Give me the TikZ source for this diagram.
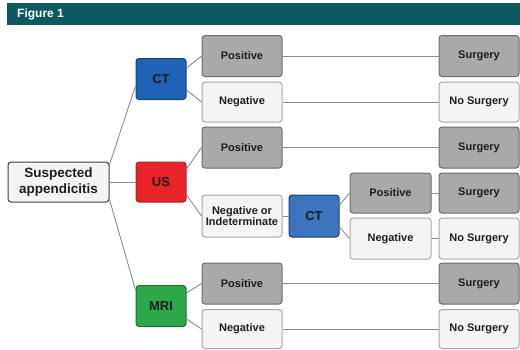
\documentclass[tikz,border=0pt]{standalone}
\usepackage{fontspec}
\setmainfont{Liberation Sans}
\definecolor{teal}{HTML}{0E5A60}
\definecolor{gfill}{HTML}{A9A9A9}
\definecolor{gline}{HTML}{6C6C6C}
\definecolor{lfill}{HTML}{F4F4F6}
\definecolor{lline}{HTML}{A8A8A8}
\definecolor{ctblue}{HTML}{1E63B8}
\definecolor{ctline}{HTML}{1B3F78}
\definecolor{ct2blue}{HTML}{3C74C0}
\definecolor{usred}{HTML}{E8242A}
\definecolor{usline}{HTML}{9A2A2A}
\definecolor{mrigreen}{HTML}{2CA84A}
\definecolor{mriline}{HTML}{2A6A38}
\definecolor{conn}{HTML}{8C8C8C}
\definecolor{txt}{HTML}{1E1E1E}
\tikzset{
  box/.style={rounded corners=3pt, line width=1pt, inner sep=0pt, align=center,
    text=txt, font=\bfseries\fontsize{11}{11.5}\selectfont,
    minimum width=80pt, minimum height=41pt},
  posbox/.style={box, fill=gfill, draw=gline},
  negbox/.style={box, fill=lfill, draw=lline},
  testbox/.style={box, minimum width=50pt, minimum height=41pt,
    font=\bfseries\fontsize{13}{14}\selectfont},
  link/.style={draw=conn, line width=0.9pt}
}
\begin{document}
\begin{tikzpicture}[x=1pt,y=-1pt]
\useasboundingbox (0,0) rectangle (520,349);
% header
\fill[teal] (7,3) rectangle (520,25);
\node[anchor=west, text=white, font=\bfseries\fontsize{12}{12}\selectfont, inner sep=0pt] (fig) at (17,14) {Figure 1};
% start
\node[box, fill=lfill, draw=black!75, minimum width=101pt, minimum height=40pt,
  font=\bfseries\fontsize{13.5}{15.5}\selectfont] (susp) at (58.5,182) {Suspected\\appendicitis};
% tests
\node[testbox, fill=ctblue, draw=ctline] (ct1) at (161,79) {CT};
\node[testbox, fill=usred, draw=usline, minimum height=40pt] (us) at (161,182) {US};
\node[testbox, fill=mrigreen, draw=mriline] (mri) at (161,306) {MRI};
% results
\node[posbox] (pos1) at (242,56) {Positive};
\node[negbox, minimum height=40pt] (neg1) at (242,102) {Negative};
\node[posbox] (pos2) at (242,147.5) {Positive};
\node[negbox, minimum height=42pt] (negind) at (242,216) {Negative or\\Indeterminate};
\node[testbox, fill=ct2blue, draw=ctline, minimum height=42pt] (ct2) at (314,216) {CT};
\node[posbox, minimum height=40pt, minimum width=81pt] (pos3) at (390.5,193) {Positive};
\node[negbox, minimum width=81pt] (neg3) at (390.5,238.5) {Negative};
\node[posbox] (pos4) at (242,283.5) {Positive};
\node[negbox, minimum height=39pt] (neg4) at (242,329) {Negative};
% outcomes
\node[posbox] (s1) at (479,56) {Surgery};
\node[negbox, minimum height=40pt] (ns1) at (479,102) {No Surgery};
\node[posbox] (s2) at (479,147.5) {Surgery};
\node[posbox, minimum height=40pt] (s3) at (479,193) {Surgery};
\node[negbox] (ns3) at (479,238.5) {No Surgery};
\node[posbox] (s4) at (479,283.5) {Surgery};
\node[negbox, minimum height=39pt] (ns4) at (479,329) {No Surgery};
% connectors
\draw[link] ([yshift=-3pt]susp.north east) -- ([yshift=-7pt]ct1.west);
\draw[link] (susp.east) -- (us.west);
\draw[link] ([yshift=3pt]susp.south east) -- ([yshift=16pt]mri.west);
\draw[link] ([yshift=11pt]ct1.east) -- (pos1.west);
\draw[link] ([yshift=-11pt]ct1.east) -- (neg1.west);
\draw[link] ([yshift=13pt]us.east) -- (pos2.west);
\draw[link] ([yshift=-13pt]us.east) -- (negind.west);
\draw[link] ([yshift=13pt]mri.east) -- (pos4.west);
\draw[link] ([yshift=-13pt]mri.east) -- (neg4.west);
\draw[link] (negind.east) -- (ct2.west);
\draw[link] ([yshift=11pt]ct2.east) -- (pos3.west);
\draw[link] ([yshift=-11pt]ct2.east) -- (neg3.west);
\draw[link] (pos1.east) -- (s1.west);
\draw[link] (neg1.east) -- (ns1.west);
\draw[link] (pos2.east) -- (s2.west);
\draw[link] (pos3.east) -- (s3.west);
\draw[link] (neg3.east) -- (ns3.west);
\draw[link] (pos4.east) -- (s4.west);
\draw[link] (neg4.east) -- (ns4.west);
\end{tikzpicture}
\end{document}
